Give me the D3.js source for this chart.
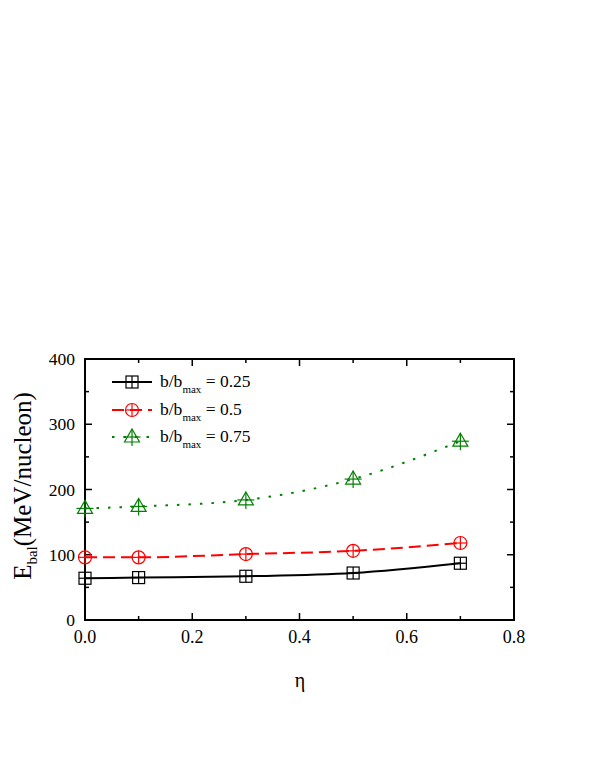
<!DOCTYPE html>
<html><head><meta charset="utf-8">
<script src="https://cdn.jsdelivr.net/npm/d3@7"></script>
<style>body{margin:0;background:#fff} text{font-family:"Liberation Serif","Times New Roman",serif;}</style>
</head><body>
<svg id="c" width="595" height="770"></svg>
<script>
const eta = [0.0, 0.1, 0.3, 0.5, 0.7];
const s025 = [64, 65, 67, 72, 87];
const s050 = [96, 96, 101, 106, 118];
const s075 = [171, 174, 184, 216, 274];
const xTicks = [0.0, 0.2, 0.4, 0.6, 0.8];
const yTicks = [0, 100, 200, 300, 400];
const seriesNames = ["0.25", "0.5", "0.75"];
const colors = ["#000000", "#ff0000", "#008000"];

const svg = d3.select("#c");
const L = 85, R = 514, T = 359, B = 620;
const x = d3.scaleLinear().domain([0, 0.8]).range([L, R]);
const y = d3.scaleLinear().domain([0, 400]).range([B, T]);

// frame
svg.append("rect").attr("x", L).attr("y", T).attr("width", R - L).attr("height", B - T)
  .attr("fill", "none").attr("stroke", "#000").attr("stroke-width", 2);

// ticks (inward, all sides)
const g = svg.append("g").attr("stroke", "#000").attr("stroke-width", 1.5);
const xMinor = d3.range(0, 0.81, 0.1);
xMinor.forEach((v, i) => {
  const len = (i % 2 === 0) ? 7 : 4;
  g.append("line").attr("x1", x(v)).attr("x2", x(v)).attr("y1", B).attr("y2", B - len);
  g.append("line").attr("x1", x(v)).attr("x2", x(v)).attr("y1", T).attr("y2", T + len);
});
const yMinor = d3.range(0, 401, 50);
yMinor.forEach((v, i) => {
  const len = (i % 2 === 0) ? 7 : 4;
  g.append("line").attr("x1", L).attr("x2", L + len).attr("y1", y(v)).attr("y2", y(v));
  g.append("line").attr("x1", R).attr("x2", R - len).attr("y1", y(v)).attr("y2", y(v));
});

// tick labels
svg.append("g").selectAll("text").data(xTicks).join("text")
  .attr("x", d => x(d)).attr("y", B + 23).attr("text-anchor", "middle")
  .attr("font-size", 18).text(d => d.toFixed(1));
svg.append("g").selectAll("text").data(yTicks).join("text")
  .attr("x", L - 10).attr("y", d => y(d) + 6).attr("text-anchor", "end")
  .attr("font-size", 17.5).text(d => d);

// axis titles
svg.append("text").attr("x", 300).attr("y", 687).attr("text-anchor", "middle")
  .attr("font-size", 20).text("η");
const yl = svg.append("text").attr("transform", "translate(31,486) rotate(-90)")
  .attr("text-anchor", "middle").attr("font-size", 25);
yl.append("tspan").text("E");
yl.append("tspan").attr("font-size", 15).attr("dy", 6).text("bal");
yl.append("tspan").attr("dy", -6).text("(MeV/nucleon)");

// markers
function marker(sel, type, color, cx, cy) {
  const m = sel.append("g").attr("stroke", color).attr("fill", "none").attr("stroke-width", 1.2);
  if (type === 0) {
    m.append("rect").attr("x", cx - 6).attr("y", cy - 6).attr("width", 12).attr("height", 12);
    m.append("line").attr("x1", cx - 6).attr("x2", cx + 6).attr("y1", cy).attr("y2", cy);
    m.append("line").attr("x1", cx).attr("x2", cx).attr("y1", cy - 6).attr("y2", cy + 6);
  } else if (type === 1) {
    m.append("circle").attr("cx", cx).attr("cy", cy).attr("r", 6.5);
    m.append("line").attr("x1", cx - 6.5).attr("x2", cx + 6.5).attr("y1", cy).attr("y2", cy);
    m.append("line").attr("x1", cx).attr("x2", cx).attr("y1", cy - 6.5).attr("y2", cy + 6.5);
  } else {
    m.append("path").attr("d", `M${cx},${cy - 8}L${cx + 7.5},${cy + 5}L${cx - 7.5},${cy + 5}Z`);
    m.append("line").attr("x1", cx - 8.5).attr("x2", cx + 8.5).attr("y1", cy).attr("y2", cy);
    m.append("line").attr("x1", cx).attr("x2", cx).attr("y1", cy - 8).attr("y2", cy + 9);
  }
}

const allSeries = [s025, s050, s075];
const dashes = [null, "12,6", "2.5,9"];
const line = d3.line().x((d, i) => x(eta[i])).y(d => y(d)).curve(d3.curveMonotoneX);

allSeries.forEach((s, k) => {
  svg.append("path").datum(s).attr("d", line).attr("fill", "none")
    .attr("stroke", colors[k]).attr("stroke-width", 2)
    .attr("stroke-dasharray", dashes[k]);
  s.forEach((v, i) => marker(svg, k, colors[k], x(eta[i]), y(v)));
});

// legend
const legY = [382, 410, 437];
seriesNames.forEach((n, k) => {
  svg.append("line").attr("x1", 112).attr("x2", 152).attr("y1", legY[k]).attr("y2", legY[k])
    .attr("stroke", colors[k]).attr("stroke-width", 2).attr("stroke-dasharray", dashes[k]);
  marker(svg, k, colors[k], 132, legY[k]);
  const t = svg.append("text").attr("x", 160).attr("y", legY[k] + 5)
    .attr("font-size", 17.5);
  t.append("tspan").text("b/b");
  t.append("tspan").attr("font-size", 11).attr("dy", 6).text("max");
  t.append("tspan").attr("dy", -6).text(" = " + n);
});
</script>
</body></html>
